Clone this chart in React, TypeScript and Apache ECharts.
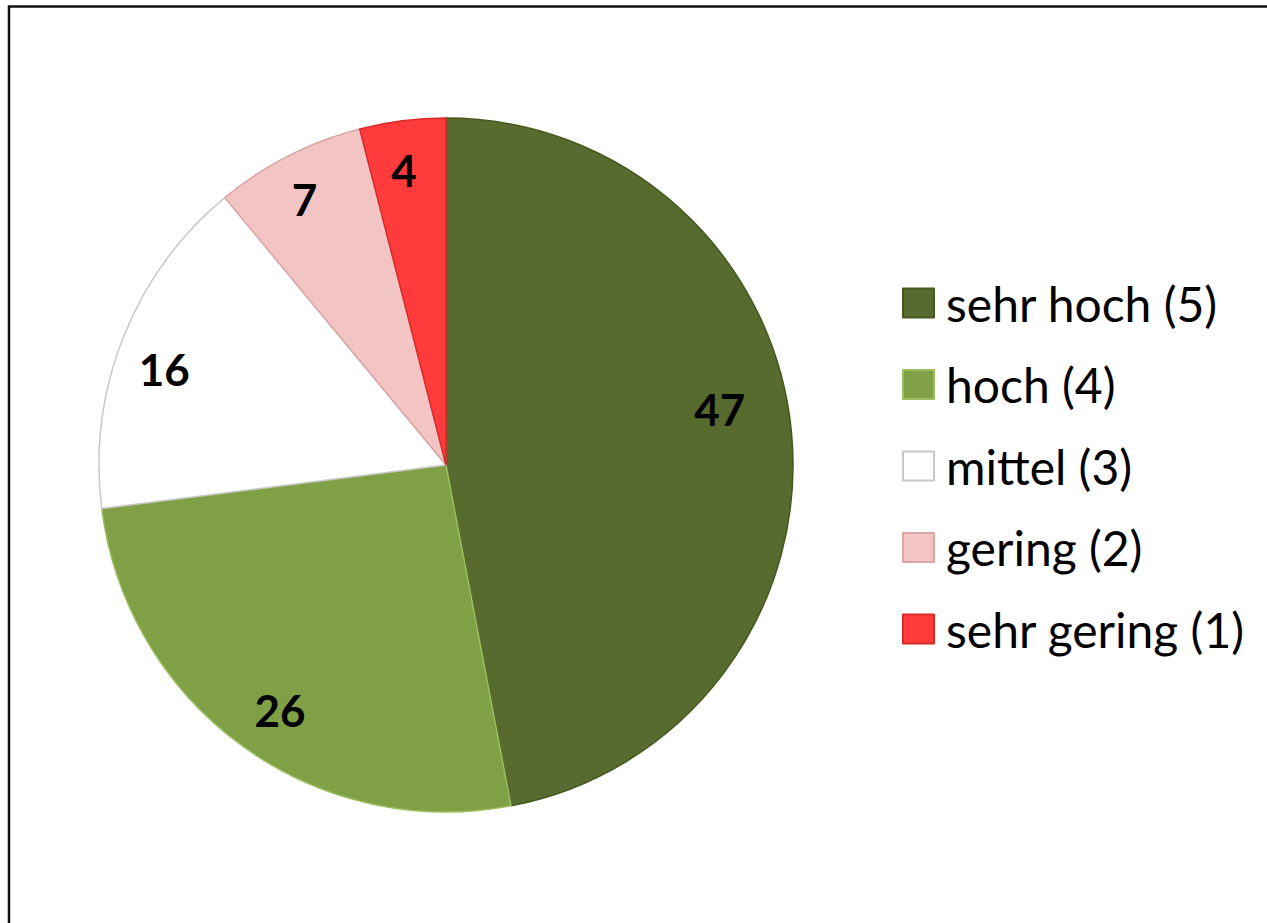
import React, { useEffect, useRef } from "react";
import * as echarts from "echarts";

const categories = ["sehr hoch (5)", "hoch (4)", "mittel (3)", "gering (2)", "sehr gering (1)"];
const values = [47, 26, 16, 7, 4];
const colors = ["#566B2D", "#80A046", "#FFFFFF", "#F2C4C4", "#FF3B3B"];
const borderColors = ["#46581F", "#9DBE5F", "#C8C8C8", "#D9A5A5", "#D92A2A"];
// label nudges (Excel "best fit" placement)
const labelDx = [-28, 12, 0, -4, -4];
const labelDy = [-27, 0, 16, 4, 6];

export default function App() {
  const ref = useRef<HTMLDivElement>(null);
  useEffect(() => {
    if (!ref.current) return;
    const chart = echarts.init(ref.current, null, { renderer: "svg" });
    const data = categories.map((name, i) => ({
      name,
      value: values[i],
      itemStyle: { color: colors[i], borderColor: borderColors[i], borderWidth: 1.5 },
    }));
    chart.setOption({
      animation: false,
      backgroundColor: "#ffffff",
      graphic: [
        {
          type: "rect",
          shape: { x: 9, y: 6.5, width: 1400, height: 1000 },
          style: { fill: "none", stroke: "#111111", lineWidth: 2.5 },
          silent: true,
        },
      ],
      legend: {
        orient: "vertical",
        left: 897,
        top: 272,
        itemWidth: 31,
        itemHeight: 29,
        itemGap: 29.5,
        icon: "rect",
        data: categories,
        textStyle: {
          fontFamily: "Lato",
          fontSize: 48,
          color: "#000000",
          lineHeight: 52,
          padding: [0, 0, 0, 7],
        },
      },
      series: [
        {
          type: "pie",
          center: [446, 465],
          radius: [0, 347],
          startAngle: 90,
          clockwise: true,
          label: { show: false },
          labelLine: { show: false },
          emphasis: { disabled: true },
          data,
        },
        {
          type: "pie",
          center: [446, 465],
          radius: [253, 347],
          startAngle: 90,
          clockwise: true,
          silent: true,
          emphasis: { disabled: true },
          itemStyle: { color: "transparent", borderWidth: 0 },
          label: {
            show: true,
            position: "inside",
            formatter: "{c}",
            fontFamily: "Lato",
            fontWeight: "bold",
            fontSize: 44,
            color: "#000000",
          },
          labelLayout: (p: any) => ({ dx: labelDx[p.dataIndex], dy: labelDy[p.dataIndex] }),
          labelLine: { show: false },
          data: categories.map((name, i) => ({ name, value: values[i] })),
        },
      ],
    });
    return () => chart.dispose();
  }, []);
  return (
    <div
      ref={ref}
      style={{ position: "fixed", left: 0, top: 0, width: 1267, height: 923 }}
    />
  );
}
